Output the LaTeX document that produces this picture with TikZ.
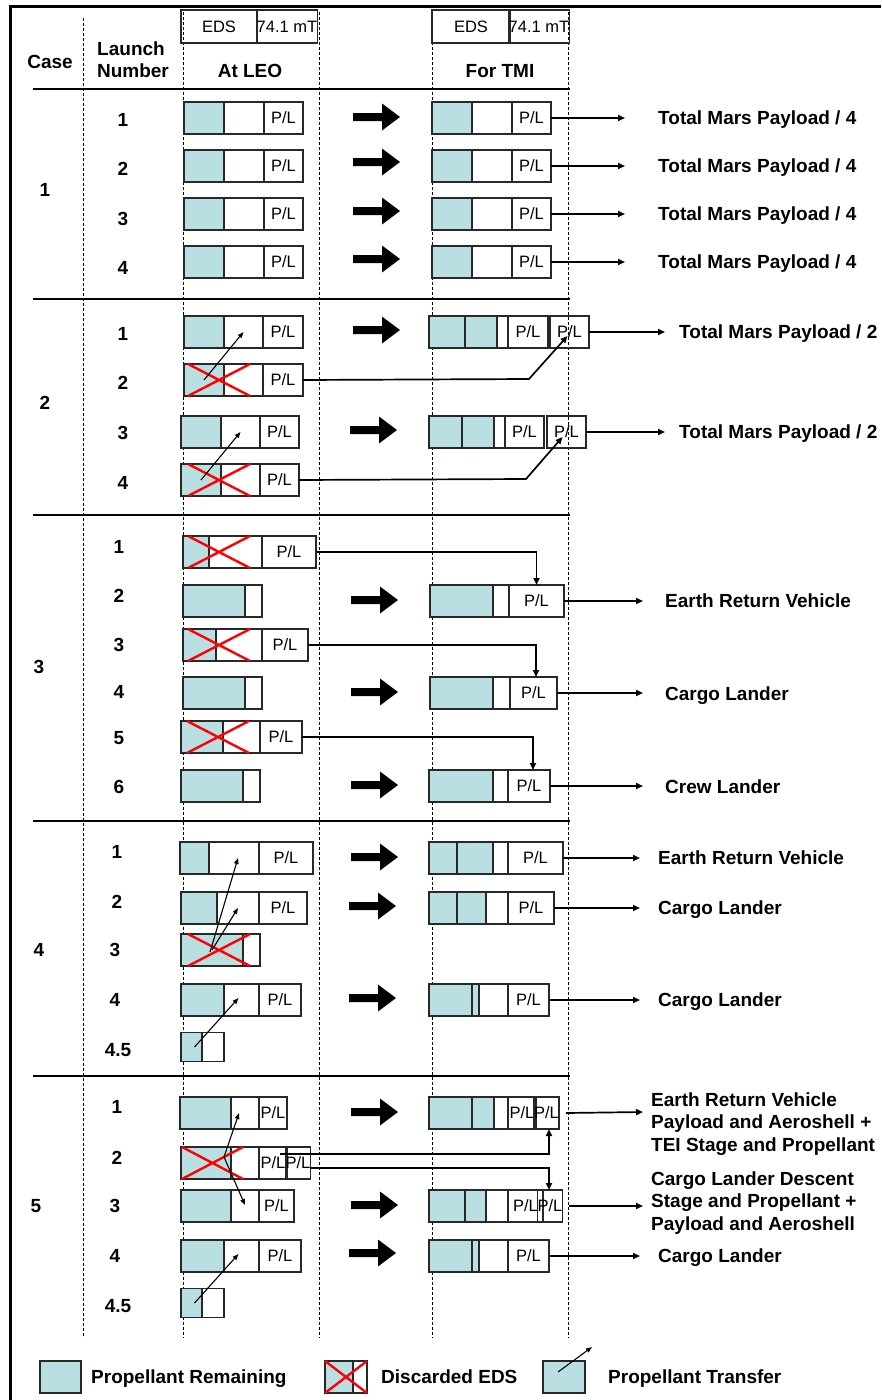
\documentclass[tikz,border=0pt]{standalone}
\usepackage{fontspec}
\setmainfont{Liberation Sans}
\usetikzlibrary{arrows.meta}
\definecolor{tealfill}{RGB}{185,223,226}
\definecolor{edgec}{RGB}{40,40,40}
\newcommand\lblfont{\fontsize{19}{22}\selectfont\bfseries}
\newcommand\plfont{\fontsize{16.5}{18}\selectfont}
\newcommand\hdfont{\fontsize{16.5}{19}\selectfont}
% segment node: name, x1, x2, yc, style, text
\newcommand\sg[6]{\node[#5, minimum width={(#3-#2)*1pt}] (#1) at ({(#2+#3)/2},#4) {#6};}
% big block arrow: x0, yc
\newcommand\bigarr[2]{\fill (#1,#2-4) -- (#1+29,#2-4) -- (#1+29,#2-13.5) -- (#1+47,#2) -- (#1+29,#2+13.5) -- (#1+29,#2+4) -- (#1,#2+4) -- cycle;}
% red cross: x1, x2, yc
\newcommand\xx[3]{\draw[xline] (#1,#3-16) -- (#2,#3+16) (#1,#3+16) -- (#2,#3-16);}
\begin{document}
\begin{tikzpicture}[x=1pt,y=-1pt,
  seg/.style={draw=edgec, line width=1.3pt, minimum height=32pt, inner sep=0pt, outer sep=0pt, font=\plfont, text height=11.8pt, text depth=0pt},
  tl/.style={seg, fill=tealfill},
  wt/.style={seg},
  hd/.style={draw=edgec, line width=1.2pt, minimum height=33pt, inner sep=0pt, outer sep=0pt, font=\hdfont, text height=11.8pt, text depth=0pt},
  lab/.style={font=\lblfont, inner sep=0pt, text height=13.6pt, text depth=0pt, anchor=west},
  num/.style={font=\lblfont, inner sep=0pt, text height=13.6pt, text depth=0pt},
  conn/.style={line width=1.7pt, -{Triangle[length=7pt,width=6pt]}},
  trans/.style={line width=1.1pt, -{Triangle[length=6pt,width=4.5pt]}},
  xline/.style={red, line width=2.4pt},
  rule/.style={line width=1.3pt},
  vdash/.style={line width=1pt, dash pattern=on 3pt off 2pt},
]
\useasboundingbox (0,0) rectangle (881,1400);
\fill[white] (0,0) rectangle (881,1400);
% frame
\draw[line width=3pt] (881,6) -- (10,6) -- (10,1400);
% dashed column lines
\draw[vdash] (83,18) -- (83,1338);
\draw[vdash] (183,12) -- (183,1338);
\draw[vdash] (319,12) -- (319,1338);
\draw[vdash] (432,12) -- (432,1338);
\draw[vdash] (568,12) -- (568,1338);
% horizontal rules
\draw[rule] (33,89) -- (570,89);
\draw[rule] (33,299) -- (570,299);
\draw[rule] (33,515) -- (570,515);
\draw[rule] (33,821) -- (570,821);
\draw[rule] (33,1076) -- (570,1076);

% header
\sg{h1a}{181}{257}{26.5}{hd}{EDS}
\sg{h1b}{257}{317}{26.5}{hd}{74.1 mT}
\sg{h2a}{432}{510}{26.5}{hd}{EDS}
\sg{h2b}{510}{568}{26.5}{hd}{74.1 mT}
\node[num] (hcase) at (50,62) {Case};
\node[num] (hl1) at (131,49) {Launch};
\node[num] (hl2) at (133,71) {Number};
\node[num] (hleo) at (250,71) {At LEO};
\node[num] (htmi) at (500,71) {For TMI};

% ---------------- Case 1 ----------------
\node[num] (case1) at (45,190) {1};
\foreach \i/\y/\ny/\ay in {1/118/120/117, 2/166/169/162, 3/214/219/211, 4/262/268/259} {
  \node[num] (n1\i) at (123,\ny) {\i};
  \sg{c1r\i a}{184}{224}{\y}{tl}{}
  \sg{c1r\i b}{224}{264}{\y}{wt}{}
  \sg{c1r\i c}{264}{303}{\y}{wt}{P/L}
  \sg{c1r\i d}{432}{472}{\y}{tl}{}
  \sg{c1r\i e}{472}{512}{\y}{wt}{}
  \sg{c1r\i f}{512}{551}{\y}{wt}{P/L}
  \bigarr{353}{\ay}
  \node[lab] (t1\i) at (658,\y) {Total Mars Payload / 4};
  \coordinate (e1\i) at (625,\y);
  \draw[conn] (c1r\i f.east) -- (e1\i);
}

% ---------------- Case 2 ----------------
\node[num] (case2) at (45,403) {2};
\node[num] (n21) at (123,334) {1};
\node[num] (n22) at (123,383) {2};
\node[num] (n23) at (123,433) {3};
\node[num] (n24) at (123,483) {4};
\sg{c2r1a}{184}{224}{332}{tl}{}
\sg{c2r1b}{224}{263}{332}{wt}{}
\sg{c2r1c}{263}{303}{332}{wt}{P/L}
\sg{c2r1d}{429}{465}{332}{tl}{}
\sg{c2r1e}{465}{497}{332}{tl}{}
\sg{c2r1f}{497}{508}{332}{wt}{}
\sg{c2r1g}{508}{548}{332}{wt}{P/L}
\sg{c2r1h}{550}{589}{332}{wt}{P/L}
\sg{c2r2a}{184}{224}{380}{tl}{}
\sg{c2r2b}{224}{263}{380}{wt}{}
\sg{c2r2c}{263}{303}{380}{wt}{P/L}
\sg{c2r3a}{181}{221}{432}{tl}{}
\sg{c2r3b}{221}{260}{432}{wt}{}
\sg{c2r3c}{260}{299}{432}{wt}{P/L}
\sg{c2r3d}{429}{462}{432}{tl}{}
\sg{c2r3e}{462}{494}{432}{tl}{}
\sg{c2r3f}{494}{505}{432}{wt}{}
\sg{c2r3g}{505}{544}{432}{wt}{P/L}
\sg{c2r3h}{547}{586}{432}{wt}{P/L}
\sg{c2r4a}{181}{221}{480}{tl}{}
\sg{c2r4b}{221}{260}{480}{wt}{}
\sg{c2r4c}{260}{299}{480}{wt}{P/L}
\xx{188}{250}{380}
\xx{188}{250}{480}
\draw[trans] (c2r2a.center) -- (c2r1b.center);
\draw[trans] (c2r4a.center) -- (c2r3b.center);
\draw[conn] (c2r2c.east) -- ++(226,-1) -- ([shift={(-2,4)}]c2r1h.center);
\draw[conn] (c2r4c.east) -- ++(227,-1) -- ([shift={(-4,5)}]c2r3h.center);
\bigarr{353}{330}
\bigarr{350}{430}
\node[lab] (t21) at (679,332) {Total Mars Payload / 2};
\node[lab] (t23) at (679,432) {Total Mars Payload / 2};
\coordinate (e21) at (665,332);
\coordinate (e23) at (665,432);
\draw[conn] (c2r1h.east) -- (e21);
\draw[conn] (c2r3h.east) -- (e23);

% ---------------- Case 3 ----------------
\node[num] (case3) at (39,667) {3};
\node[num] (n31) at (119,547) {1};
\node[num] (n32) at (119,596) {2};
\node[num] (n33) at (119,645) {3};
\node[num] (n34) at (119,692) {4};
\node[num] (n35) at (119,738) {5};
\node[num] (n36) at (119,787) {6};
\sg{c3r1a}{183}{209}{552}{tl}{}
\sg{c3r1b}{209}{262}{552}{wt}{}
\sg{c3r1c}{262}{316}{552}{wt}{P/L}
\sg{c3r2a}{183}{245}{601}{tl}{}
\sg{c3r2b}{245}{262}{601}{wt}{}
\sg{c3r2d}{430}{493}{601}{tl}{}
\sg{c3r2e}{493}{509}{601}{wt}{}
\sg{c3r2f}{509}{564}{601}{wt}{P/L}
\sg{c3r3a}{183}{216}{645}{tl}{}
\sg{c3r3b}{216}{262}{645}{wt}{}
\sg{c3r3c}{262}{308}{645}{wt}{P/L}
\sg{c3r4a}{183}{245}{693}{tl}{}
\sg{c3r4b}{245}{262}{693}{wt}{}
\sg{c3r4d}{430}{493}{693}{tl}{}
\sg{c3r4e}{493}{510}{693}{wt}{}
\sg{c3r4f}{510}{557}{693}{wt}{P/L}
\sg{c3r5a}{181}{223}{737}{tl}{}
\sg{c3r5b}{223}{260}{737}{wt}{}
\sg{c3r5c}{260}{302}{737}{wt}{P/L}
\sg{c3r6a}{181}{243}{786}{tl}{}
\sg{c3r6b}{243}{260}{786}{wt}{}
\sg{c3r6d}{429}{493}{786}{tl}{}
\sg{c3r6e}{493}{508}{786}{wt}{}
\sg{c3r6f}{508}{550}{786}{wt}{P/L}
\xx{188}{250}{552}
\xx{188}{250}{645}
\xx{187}{249}{737}
\draw[conn] (c3r1c.east) -| (c3r2f.north);
\draw[conn] (c3r3c.east) -| ([xshift=2.5pt]c3r4f.north);
\draw[conn] (c3r5c.east) -| ([xshift=4pt]c3r6f.north);
\bigarr{351}{600}
\bigarr{351}{692}
\bigarr{351}{785}
\node[lab] (t32) at (665,601) {Earth Return Vehicle};
\node[lab] (t34) at (665,694) {Cargo Lander};
\node[lab] (t36) at (665,787) {Crew Lander};
\coordinate (e32) at (643,601);
\coordinate (e34) at (643,693);
\coordinate (e36) at (643,786);
\draw[conn] (c3r2f.east) -- (e32);
\draw[conn] (c3r4f.east) -- (e34);
\draw[conn] (c3r6f.east) -- (e36);

% ---------------- Case 4 ----------------
\node[num] (case4) at (39,950) {4};
\node[num] (n41) at (117,852) {1};
\node[num] (n42) at (117,902) {2};
\node[num] (n43) at (115,950) {3};
\node[num] (n44) at (115,1000) {4};
\node[num] (n45) at (118,1050) {4.5};
\sg{c4r1a}{180}{209}{858}{tl}{}
\sg{c4r1b}{209}{259}{858}{wt}{}
\sg{c4r1c}{259}{313}{858}{wt}{P/L}
\sg{c4r1d}{429}{457}{858}{tl}{}
\sg{c4r1e}{457}{493}{858}{tl}{}
\sg{c4r1f}{493}{508}{858}{wt}{}
\sg{c4r1g}{508}{563}{858}{wt}{P/L}
\sg{c4r2a}{181}{217}{908}{tl}{}
\sg{c4r2b}{217}{259}{908}{wt}{}
\sg{c4r2c}{259}{307}{908}{wt}{P/L}
\sg{c4r2d}{429}{457}{908}{tl}{}
\sg{c4r2e}{457}{486}{908}{tl}{}
\sg{c4r2f}{486}{508}{908}{wt}{}
\sg{c4r2g}{508}{554}{908}{wt}{P/L}
\sg{c4r3a}{181}{243}{950}{tl}{}
\sg{c4r3b}{243}{260}{950}{wt}{}
\sg{c4r4a}{181}{224}{1000}{tl}{}
\sg{c4r4b}{224}{259}{1000}{wt}{}
\sg{c4r4c}{259}{301}{1000}{wt}{P/L}
\sg{c4r4d}{429}{472}{1000}{tl}{}
\sg{c4r4e}{472}{479}{1000}{tl}{}
\sg{c4r4f}{479}{508}{1000}{wt}{}
\sg{c4r4g}{508}{549}{1000}{wt}{P/L}
\sg{c4r5a}{181}{202}{1047}{tl, minimum height=29pt}{}
\sg{c4r5b}{202}{224}{1047}{wt, minimum height=29pt}{}
\xx{188}{250}{950}
\draw[trans] ([shift={(-2,2)}]c4r3a.center) -- ([xshift=4pt]c4r1b.center);
\draw[trans] (c4r3a.center) -- (c4r2b.center);
\draw[trans] ([xshift=3pt]c4r5a.center) -- ([shift={(-3,-2)}]c4r4b.center);
\bigarr{351}{857}
\bigarr{349}{906}
\bigarr{349}{998}
\node[lab] (t41) at (658,858) {Earth Return Vehicle};
\node[lab] (t42) at (658,908) {Cargo Lander};
\node[lab] (t44) at (658,1000) {Cargo Lander};
\coordinate (e41) at (640,858);
\coordinate (e42) at (640,908);
\coordinate (e44) at (640,1000);
\draw[conn] (c4r1g.east) -- (e41);
\draw[conn] (c4r2g.east) -- (e42);
\draw[conn] (c4r4g.east) -- (e44);

% ---------------- Case 5 ----------------
\node[num] (case5) at (36,1206) {5};
\node[num] (n51) at (117,1107) {1};
\node[num] (n52) at (117,1158) {2};
\node[num] (n53) at (115,1206) {3};
\node[num] (n54) at (115,1256) {4};
\node[num] (n55) at (118,1306) {4.5};
\sg{c5r1a}{180}{231}{1113}{tl}{}
\sg{c5r1b}{231}{259}{1113}{wt}{}
\sg{c5r1c}{259}{287}{1113}{wt}{P/L}
\sg{c5r1d}{429}{472}{1113}{tl}{}
\sg{c5r1e}{472}{494}{1113}{tl}{}
\sg{c5r1f}{494}{508}{1113}{wt}{}
\sg{c5r1g}{508}{536}{1113}{wt}{P/L}
\sg{c5r1h}{536}{557}{1113}{wt}{P/L}
\sg{c5r2a}{181}{231}{1163}{tl}{}
\sg{c5r2b}{231}{259}{1163}{wt}{}
\sg{c5r2c}{259}{287}{1163}{wt}{P/L}
\sg{c5r2d}{287}{309}{1163}{wt}{P/L}
\sg{c5r3a}{181}{231}{1206}{tl}{}
\sg{c5r3b}{231}{259}{1206}{wt}{}
\sg{c5r3c}{259}{294}{1206}{wt}{P/L}
\sg{c5r3d}{429}{465}{1206}{tl}{}
\sg{c5r3e}{465}{486}{1206}{tl}{}
\sg{c5r3f}{486}{508}{1206}{wt}{}
\sg{c5r3g}{508}{543}{1206}{wt}{P/L}
\sg{c5r3h}{543}{557}{1206}{wt}{P/L}
\sg{c5r4a}{181}{224}{1256}{tl}{}
\sg{c5r4b}{224}{259}{1256}{wt}{}
\sg{c5r4c}{259}{301}{1256}{wt}{P/L}
\sg{c5r4d}{429}{472}{1256}{tl}{}
\sg{c5r4e}{472}{479}{1256}{tl}{}
\sg{c5r4f}{479}{508}{1256}{wt}{}
\sg{c5r4g}{508}{549}{1256}{wt}{P/L}
\sg{c5r5a}{181}{202}{1303}{tl, minimum height=29pt}{}
\sg{c5r5b}{202}{224}{1303}{wt, minimum height=29pt}{}
\xx{182}{243}{1163}
\draw[trans] ([shift={(18,-6)}]c5r2a.center) -- ([xshift=-6pt]c5r1b.center);
\draw[trans] ([shift={(18,-6)}]c5r2a.center) -- ([yshift=1pt]c5r3b.center);
\draw[trans] ([xshift=3pt]c5r5a.center) -- ([shift={(-3,-2)}]c5r4b.center);
\draw[conn] ([shift={(7,-9)}]c5r2c.center) -| ([xshift=2.5pt]c5r1h.south);
\draw[conn] ([shift={(0,5)}]c5r2d.east) -| ([xshift=-1pt]c5r3h.north);
\bigarr{351}{1112}
\bigarr{351}{1205}
\bigarr{349}{1253}
\node[lab] (t51a) at (651,1100) {Earth Return Vehicle};
\node[lab] (t51b) at (651,1122) {Payload and Aeroshell +};
\node[lab] (t51c) at (651,1145) {TEI Stage and Propellant};
\node[lab] (t53a) at (651,1179) {Cargo Lander Descent};
\node[lab] (t53b) at (651,1201) {Stage and Propellant +};
\node[lab] (t53c) at (651,1224) {Payload and Aeroshell};
\node[lab] (t54) at (658,1256) {Cargo Lander};
\coordinate (e51) at (643,1112);
\coordinate (e53) at (643,1206);
\coordinate (e54) at (640,1256);
\draw[conn] ([xshift=7pt]c5r1h.east) -- (e51);
\draw[conn] ([xshift=7pt]c5r3h.east) -- (e53);
\draw[conn] (c5r4g.east) -- (e54);

% ---------------- Legend ----------------
\sg{lg1}{40}{81}{1377}{tl}{}
\node[lab] (lt1) at (91,1377) {Propellant Remaining};
\sg{lg2a}{325}{353}{1377}{tl}{}
\sg{lg2b}{353}{367}{1377}{wt}{}
\xx{325}{367}{1377}
\node[lab] (lt2) at (381,1377) {Discarded EDS};
\sg{lg3}{543}{585}{1377}{tl}{}
\coordinate (lg3e) at (592,1347);
\draw[trans] ([shift={(-6,-5)}]lg3.center) -- (lg3e);
\node[lab] (lt3) at (608,1377) {Propellant Transfer};
\end{tikzpicture}
\end{document}
